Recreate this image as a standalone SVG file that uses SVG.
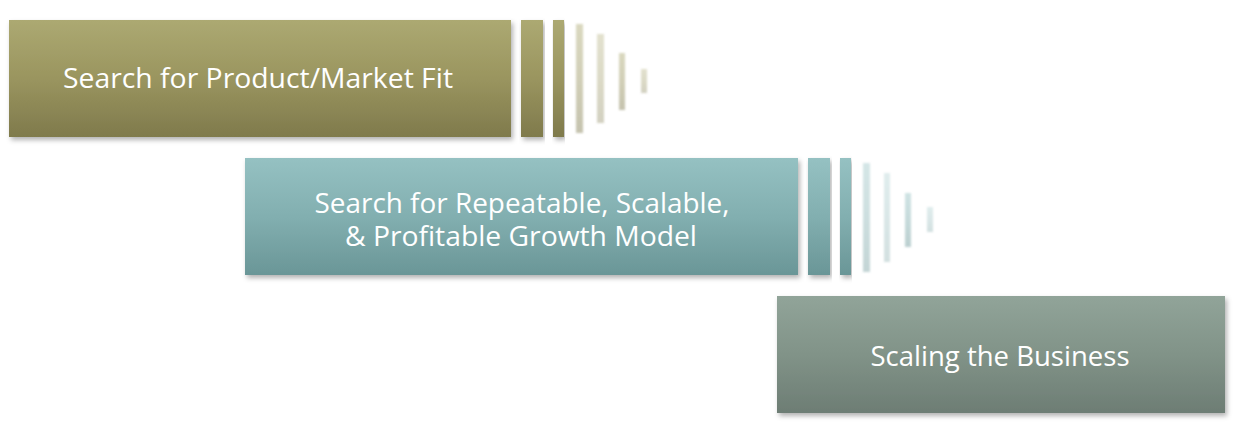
<svg xmlns="http://www.w3.org/2000/svg" width="1240" height="436" viewBox="0 0 1240 436">
  <defs>
    <linearGradient id="gOlive" x1="0" y1="0" x2="0" y2="1">
      <stop offset="0" stop-color="#aca972"/>
      <stop offset="0.5" stop-color="#9a955f"/>
      <stop offset="1" stop-color="#7f7a4c"/>
    </linearGradient>
    <linearGradient id="gTeal" x1="0" y1="0" x2="0" y2="1">
      <stop offset="0" stop-color="#95c1c2"/>
      <stop offset="0.5" stop-color="#82afb0"/>
      <stop offset="1" stop-color="#6a9697"/>
    </linearGradient>
    <linearGradient id="gSage" x1="0" y1="0" x2="0" y2="1">
      <stop offset="0" stop-color="#91a499"/>
      <stop offset="0.5" stop-color="#819388"/>
      <stop offset="1" stop-color="#6d7d74"/>
    </linearGradient>
    <filter id="shadow" x="-5%" y="-10%" width="112%" height="125%">
      <feDropShadow dx="2" dy="3" stdDeviation="2.5" flood-color="#000" flood-opacity="0.3"/>
    </filter>
    <filter id="blur" x="-100%" y="-10%" width="300%" height="120%">
      <feGaussianBlur stdDeviation="1.3"/>
    </filter>
  </defs>
  <style>
    .lbl { font-family: "Open Sans", "Noto Sans", "Liberation Sans", sans-serif; font-size: 28px; fill: #ffffff; text-anchor: middle; }
    .fade { filter: url(#blur); }
  </style>
  <rect width="1240" height="436" fill="#ffffff"/>

  <g id="node-product-market-fit">
    <rect x="9" y="20" width="502" height="117" fill="url(#gOlive)" filter="url(#shadow)"/>
    <rect x="521" y="20" width="22" height="117" fill="url(#gOlive)" filter="url(#shadow)"/>
    <rect x="553" y="20" width="11" height="117" fill="url(#gOlive)" filter="url(#shadow)"/>
    <g class="fade">
      <rect x="576" y="24" width="7" height="109" fill="url(#gOlive)" opacity="0.45"/>
      <rect x="597" y="34" width="7" height="89" fill="url(#gOlive)" opacity="0.35"/>
      <rect x="619" y="53" width="6" height="57" fill="url(#gOlive)" opacity="0.45"/>
      <rect x="641" y="69" width="6" height="24" fill="url(#gOlive)" opacity="0.35"/>
    </g>
    <text class="lbl" x="258" y="88" textLength="390" lengthAdjust="spacingAndGlyphs">Search for Product/Market Fit</text>
  </g>

  <g id="node-growth-model">
    <rect x="245" y="158" width="553" height="117" fill="url(#gTeal)" filter="url(#shadow)"/>
    <rect x="808" y="158" width="22" height="117" fill="url(#gTeal)" filter="url(#shadow)"/>
    <rect x="840" y="158" width="11" height="117" fill="url(#gTeal)" filter="url(#shadow)"/>
    <g class="fade">
      <rect x="863" y="163" width="7" height="109" fill="url(#gTeal)" opacity="0.4"/>
      <rect x="884" y="173" width="6" height="89" fill="url(#gTeal)" opacity="0.3"/>
      <rect x="905" y="193" width="6" height="54" fill="url(#gTeal)" opacity="0.45"/>
      <rect x="927" y="207" width="6" height="25" fill="url(#gTeal)" opacity="0.3"/>
    </g>
    <text class="lbl" x="522" y="213" textLength="415" lengthAdjust="spacingAndGlyphs">Search for Repeatable, Scalable,</text>
    <text class="lbl" x="521" y="246" textLength="352" lengthAdjust="spacingAndGlyphs">&amp; Profitable Growth Model</text>
  </g>

  <g id="node-scaling">
    <rect x="777" y="296" width="448" height="117" fill="url(#gSage)" filter="url(#shadow)"/>
    <text class="lbl" x="1000" y="366" textLength="259" lengthAdjust="spacingAndGlyphs">Scaling the Business</text>
  </g>

  <g id="connectors"></g>
</svg>
